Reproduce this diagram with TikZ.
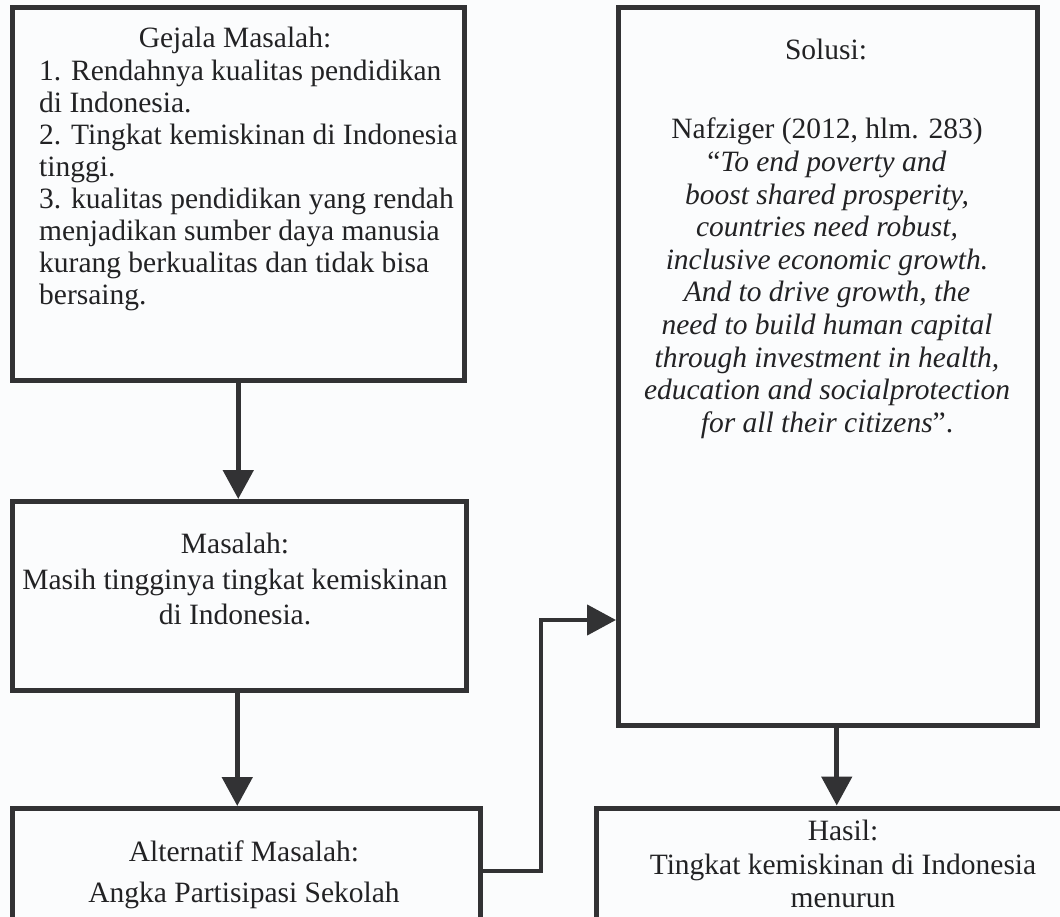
\documentclass[tikz,border=0pt]{standalone}
\usepackage{fontspec}
\setmainfont{Liberation Serif}
\usetikzlibrary{arrows.meta}
\definecolor{linec}{RGB}{50,50,52}
\definecolor{txtc}{RGB}{34,34,36}
\definecolor{bgc}{RGB}{251,252,253}
\begin{document}
\begin{tikzpicture}[x=1pt,y=-1pt,
  box/.style={draw=linec, line width=5pt, rectangle, inner sep=0pt},
  lbl/.style={text=txtc, inner sep=0pt, font=\fontsize{29.5}{32}\selectfont},
  arr/.style={draw=linec, line width=5pt, -{Triangle[length=29pt,width=30pt]}}]
\useasboundingbox (0,0) rectangle (1060,917);
\fill[bgc] (0,0) rectangle (1060,917);
\clip (0,0) rectangle (1060,917);
% boxes
\node[box, minimum width=452.5pt, minimum height=372.5pt] (g) at (238.25,193.75) {};
\node[box, minimum width=453.5pt, minimum height=188.5pt] (m) at (239.25,595.75) {};
\node[box, minimum width=468.5pt, minimum height=151.5pt] (a) at (246.25,884.25) {};
\node[box, minimum width=418.5pt, minimum height=717.5pt] (s) at (827.75,366.25) {};
\node[box, minimum width=494pt, minimum height=152pt] (h) at (843,884) {};
% texts
\node[lbl, anchor=base] (gt) at (235,48) {Gejala Masalah:};
\node[lbl, anchor=north west, align=left] (gb) at (39,60) {1. Rendahnya kualitas pendidikan\\di Indonesia.\\2. Tingkat kemiskinan di Indonesia\\tinggi.\\3. kualitas pendidikan yang rendah\\menjadikan sumber daya manusia\\kurang berkualitas dan tidak bisa\\bersaing.};
\node[lbl, anchor=north, align=center, font=\fontsize{29.5}{35.5}\selectfont] (mt) at (235,533) {Masalah:\\Masih tingginya tingkat kemiskinan\\di Indonesia.};
\node[lbl, anchor=north, align=center, font=\fontsize{29.5}{41}\selectfont] (at) at (244,841) {Alternatif Masalah:\\Angka Partisipasi Sekolah};
\node[lbl, anchor=base] (st0) at (826,60) {Solusi:};
\node[lbl, anchor=north, align=center, font=\fontsize{29.5}{32.6}\selectfont] (st) at (827,118) {Nafziger (2012, hlm. 283)\\“\textit{To end poverty and}\\\textit{boost shared prosperity,}\\\textit{countries need robust,}\\\textit{inclusive economic growth.}\\\textit{And to drive growth, the}\\\textit{need to build human capital}\\\textit{through investment in health,}\\\textit{education and socialprotection}\\\textit{for all their citizens}”.};
\node[lbl, anchor=north, align=center, font=\fontsize{29.5}{33.5}\selectfont] (ht) at (843,820) {Hasil:\\Tingkat kemiskinan di Indonesia\\menurun};
% connectors
\draw[arr] (g.south) -- (g.south |- m.north);
\draw[arr] ([xshift=-2pt]m.south) -- ([xshift=-2pt]m.south |- a.north);
\draw[arr] ([xshift=9pt]s.south) -- ([xshift=9pt]s.south |- h.north);
\coordinate (c1) at (541,871);
\coordinate (c2) at (541,620);
\draw[arr, line width=4.5pt] (a.east |- c1) -- (c1) -- (c2) -- (c2 -| s.west);
\end{tikzpicture}
\end{document}
